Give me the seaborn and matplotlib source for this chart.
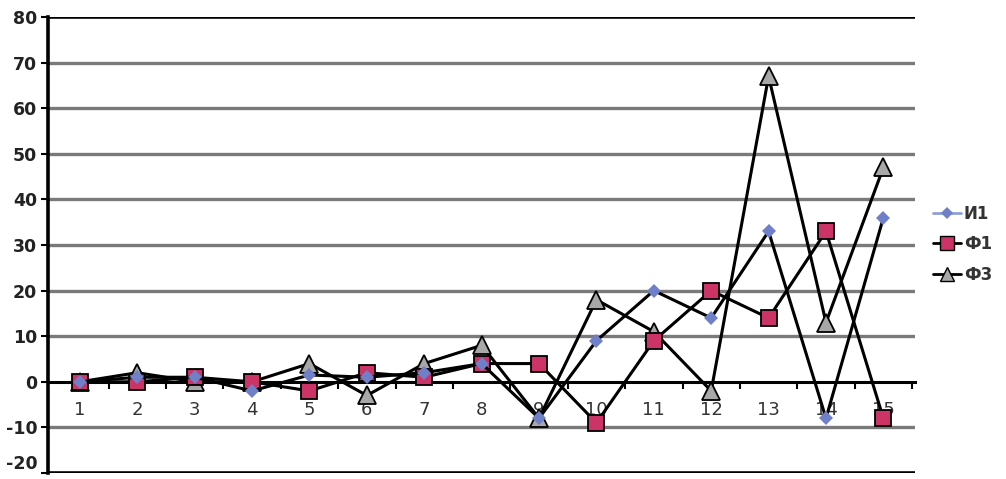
import matplotlib
matplotlib.use("Agg")
import matplotlib.pyplot as plt
from matplotlib.lines import Line2D
import seaborn as sns
import pandas as pd

categories = list(range(1, 16))
i1 = [0, 1, 1, -2, 1.5, 1, 2, 4, -8, 9, 20, 14, 33, -8, 36]
f1 = [0, 0, 1, 0, -2, 2, 1, 4, 4, -9, 9, 20, 14, 33, -8]
f3 = [0, 2, 0, 0, 4, -3, 4, 8, -8, 18, 11, -2, 67, 13, 47]
series_names = ["И1", "Ф1", "Ф3"]
y_ticks = [-20, -10, 0, 10, 20, 30, 40, 50, 60, 70, 80]

sns.set_theme(style="white")
plt.rcParams['font.family'] = ['DejaVu Sans']

fig = plt.figure(figsize=(10.06, 4.79), dpi=100)
ax = fig.add_axes([0.048, 0.0125, 0.8615, 0.952])

df = pd.DataFrame({"x": categories, "И1": i1, "Ф1": f1, "Ф3": f3})

for yv in y_ticks:
    if yv in (80, -20):
        ax.axhline(yv, color="black", lw=2.6, zorder=1)
    elif yv != 0:
        ax.axhline(yv, color="#7a7a7a", lw=2.4, zorder=1)

line_kw = dict(color="black", lw=2.2, zorder=3)
sns.lineplot(data=df, x="x", y="Ф3", ax=ax, marker="^", markersize=12.5,
             markerfacecolor="#a8a8a8", markeredgecolor="black", markeredgewidth=1.3, **line_kw)
sns.lineplot(data=df, x="x", y="Ф1", ax=ax, marker="s", markersize=11.5,
             markerfacecolor="#cc3366", markeredgecolor="black", markeredgewidth=1.3, **line_kw)
sns.lineplot(data=df, x="x", y="И1", ax=ax, marker="D", markersize=7,
             markerfacecolor="#7080c8", markeredgecolor="#7080c8", markeredgewidth=0, **line_kw)

ax.set_xlim(0.45, 15.55)
ax.set_ylim(-20, 80)
ax.set_xlabel("")
ax.set_ylabel("")
ax.set_yticks(y_ticks)
ax.set_yticklabels([str(v) for v in y_ticks], fontsize=12.5, fontweight="bold", color="#222222")
ax.tick_params(axis="y", direction="out", length=5, width=1.5, color="black", pad=3, left=True)
ax.get_yticklabels()[0].set_va("bottom")

ax.spines["bottom"].set_position(("data", 0))
ax.spines["bottom"].set_linewidth(2.2)
ax.spines["bottom"].set_color("black")
ax.spines["bottom"].set_zorder(2)
ax.spines["left"].set_linewidth(2.6)
ax.spines["left"].set_color("black")
ax.spines["top"].set_visible(False)
ax.spines["right"].set_visible(False)

ax.set_xticks(categories)
ax.set_xticklabels([str(c) for c in categories], fontsize=13, color="#333333")
ax.set_xticks([c + 0.5 for c in categories], minor=True)
ax.tick_params(axis="x", which="major", length=0, pad=14, bottom=True)
ax.tick_params(axis="x", which="minor", length=5, width=1.5, color="black", direction="out", bottom=True)

handles = [
    Line2D([], [], color="#8ea0d8", lw=2.0, marker="D", markersize=6,
           markerfacecolor="#7080c8", markeredgewidth=0),
    Line2D([], [], color="black", lw=2.0, marker="s", markersize=10,
           markerfacecolor="#cc3366", markeredgecolor="black"),
    Line2D([], [], color="black", lw=2.0, marker="^", markersize=10,
           markerfacecolor="#a8a8a8", markeredgecolor="black"),
]
fig.legend(handles, series_names, loc="center left", bbox_to_anchor=(0.916, 0.49),
           frameon=False, handlelength=1.7, handletextpad=0.15, labelspacing=0.75,
           prop={"size": 12, "weight": "bold"}, labelcolor="#333333", borderpad=0.2)

fig.savefig("out.png", dpi=100)
